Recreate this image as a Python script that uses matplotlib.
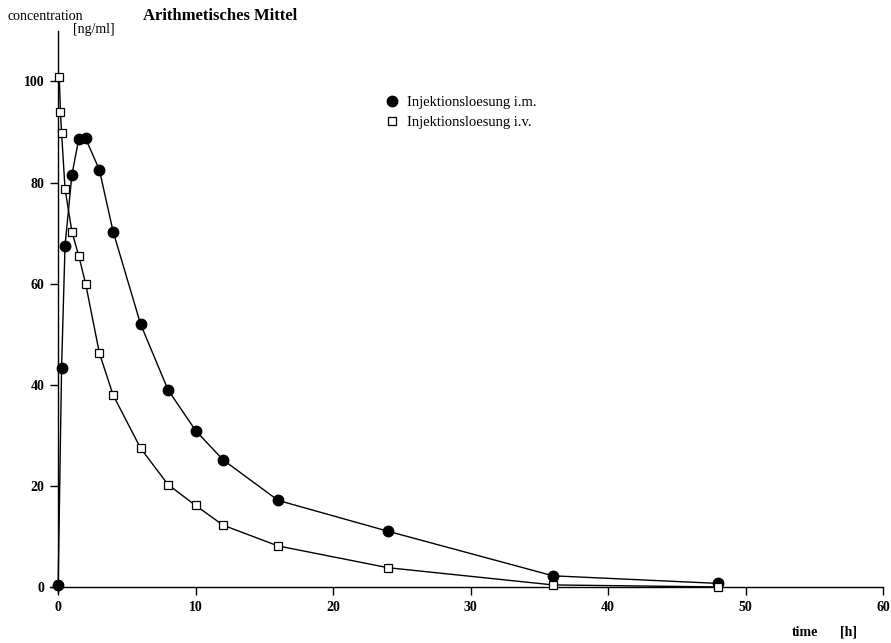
import matplotlib
matplotlib.use("Agg")
import matplotlib.pyplot as plt

# Data
t_im = [0, 0.25, 0.5, 1, 1.5, 2, 3, 4, 6, 8, 10, 12, 16, 24, 36, 48]
c_im = [0.5, 43.4, 67.5, 81.5, 88.6, 88.7, 82.5, 70.3, 52.0, 39.0, 31.0, 25.2, 17.2, 11.1, 2.3, 0.8]

t_iv = [0.083, 0.167, 0.25, 0.5, 1, 1.5, 2, 3, 4, 6, 8, 10, 12, 16, 24, 36, 48]
c_iv = [100.8, 94.0, 89.8, 78.8, 70.3, 65.5, 60.0, 46.3, 38.0, 27.5, 20.3, 16.2, 12.3, 8.2, 3.9, 0.5, 0.1]

label_im = "Injektionsloesung i.m."
label_iv = "Injektionsloesung i.v."
xticks = [0, 10, 20, 30, 40, 50, 60]
yticks = [0, 20, 40, 60, 80, 100]

plt.rcParams['font.family'] = ['Liberation Serif', 'DejaVu Serif']

fig = plt.figure(figsize=(8.91, 6.43), dpi=100)
ax = fig.add_axes([0.056, 0.0793, 0.935, 0.873])

ax.plot(t_im, c_im, color='black', lw=1.0, marker='o', ms=7.5,
        mfc='black', mec='black', label=label_im, zorder=3)
ax.plot(t_iv, c_iv, color='black', lw=1.0, marker='s', ms=5.5,
        mfc='white', mec='black', mew=0.9, label=label_iv, zorder=3)

ax.set_xlim(-0.6, 60)
ax.set_ylim(-0.9, 110)
for s in ['top', 'right']:
    ax.spines[s].set_visible(False)
ax.spines['left'].set_position(('data', 0))
ax.spines['bottom'].set_position(('data', 0))
ax.spines['left'].set_linewidth(1.0)
ax.spines['bottom'].set_linewidth(1.0)

ax.set_xticks(xticks)
ax.set_yticks(yticks)
ax.set_xticklabels([str(v) for v in xticks], fontweight='bold', fontsize=10)
ax.set_yticklabels([str(v) for v in yticks], fontweight='bold', fontsize=10)
ax.tick_params(axis='both', direction='out', length=6, width=1.0, pad=4)

leg = ax.legend(loc='upper left', bbox_to_anchor=(0.397, 0.894), frameon=False,
                fontsize=10.5, handlelength=0.8, handletextpad=0.6,
                labelspacing=0.45, borderaxespad=0)
for h in leg.legend_handles:
    h.set_linestyle('None')

fig.text(7/891, 1 - 16/643, "concentration", fontsize=10, va='center', ha='left')
fig.text(73/891, 1 - 29/643, "[ng/ml]", fontsize=10, va='center', ha='left')
fig.text(143/891, 1 - 16/643, "Arithmetisches Mittel", fontsize=12,
         fontweight='bold', va='center', ha='left')
fig.text(792/891, 1 - 632/643, "time", fontsize=10, fontweight='bold', va='center', ha='left')
fig.text(840/891, 1 - 632/643, "[h]", fontsize=10, fontweight='bold', va='center', ha='left')

fig.savefig("out.png", dpi=100)
